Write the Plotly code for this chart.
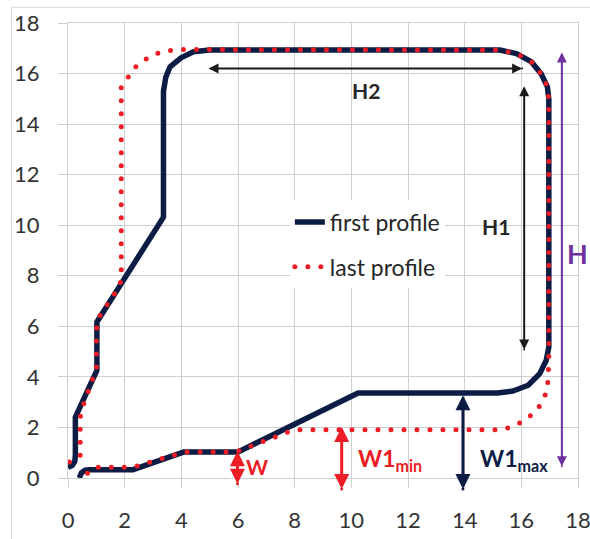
import plotly.graph_objects as go

# ---- data ----
first_x = [0.0, 0.15, 0.24, 0.26, 0.26, 1.02, 1.02, 3.37, 3.37, 3.45, 3.6, 4.0, 4.43, 5.0,
           15.24, 15.83, 16.36, 16.71, 16.92, 16.97, 16.97, 16.88, 16.65, 16.24, 15.71, 15.15,
           10.24, 6.0, 4.1, 2.3, 0.75, 0.6, 0.47, 0.40]
first_y = [0.43, 0.5, 0.65, 0.9, 2.41, 4.26, 6.17, 10.32, 15.3, 15.85, 16.26, 16.63, 16.86, 16.93,
           16.93, 16.79, 16.46, 15.97, 15.47, 15.0, 5.18, 4.66, 4.13, 3.67, 3.44, 3.36,
           3.36, 1.03, 1.03, 0.33, 0.33, 0.31, 0.2, 0.0]

last_x = [0.05, 0.3, 0.43, 0.43, 0.55, 0.88, 1.0, 1.0, 1.08, 1.84, 1.88, 1.88, 2.06, 2.29, 2.64,
          3.04, 3.46, 3.92, 4.39, 15.24, 15.83, 16.36, 16.71, 16.92, 16.97, 16.97, 16.92, 16.77,
          16.51, 16.15, 15.77, 15.32, 7.98, 5.93, 4.11, 2.31, 0.94, 0.61]
last_y = [0.63, 0.75, 0.9, 2.41, 2.92, 3.87, 4.33, 5.84, 6.34, 7.62, 8.12, 15.5, 15.73, 16.17, 16.5,
          16.76, 16.89, 16.95, 16.95, 16.93, 16.79, 16.46, 15.97, 15.47, 15.0, 4.52, 3.54, 3.05,
          2.64, 2.31, 2.06, 1.91, 1.91, 1.03, 1.03, 0.43, 0.43, 0.12]

series_names = ["first profile", "last profile"]
tick_vals = [0, 2, 4, 6, 8, 10, 12, 14, 16, 18]

# dimension arrows: head/tail positions, colour, width
arrow_x0 = [4.96, 16.1, 17.43, 5.98, 9.66, 13.94]
arrow_y0 = [16.2, 15.5, 16.83, 1.06, 2.02, 3.27]
arrow_x1 = [16.08, 16.1, 17.43, 5.98, 9.66, 13.94]
arrow_y1 = [16.2, 5.02, 0.41, -0.29, -0.49, -0.49]
arrow_colors = ["#1a1a1a", "#1a1a1a", "#7030a0", "#ee1c25", "#ee1c25", "#0c1c45"]
arrow_widths = [2, 2, 2, 3, 3, 3]

# labels
label_text = ["<b>H2</b>", "<b>H1</b>", "<b>H</b>", "<b>W</b>",
              "<b>W1<sub>min</sub></b>", "<b>W1<sub>max</sub></b>"]
label_x = [10.53, 15.12, 17.97, 6.66, 11.36, 15.75]
label_y = [15.34, 9.93, 8.89, 0.45, 0.72, 0.72]
label_colors = ["#262626", "#262626", "#7030a0", "#ee1c25", "#ee1c25", "#0c1c45"]
label_sizes = [21, 21, 27, 21, 23, 23]

NAVY = "#0c1c45"
RED = "#ee1c25"
GRID = "#cfcfcf"
FONT = "Lato"

fig = go.Figure()
fig.add_trace(go.Scatter(x=first_x, y=first_y, mode="lines", name=series_names[0],
                         legendgroup="a",
                         line=dict(color=NAVY, width=5.5)))
fig.add_trace(go.Scatter(x=last_x, y=last_y, mode="lines", name=series_names[1],
                         legendgroup="b",
                         line=dict(color=RED, width=5, dash="0px,13px")))

for i in range(len(arrow_x0)):
    fig.add_annotation(x=arrow_x0[i], y=arrow_y0[i], ax=arrow_x1[i], ay=arrow_y1[i],
                       xref="x", yref="y", axref="x", ayref="y", text="",
                       showarrow=True, arrowside="end+start",
                       arrowhead=2, startarrowhead=2, arrowsize=1, startarrowsize=1,
                       arrowwidth=arrow_widths[i], arrowcolor=arrow_colors[i],
                       standoff=0, startstandoff=0)

for i in range(len(label_text)):
    fig.add_annotation(x=label_x[i], y=label_y[i], xref="x", yref="y", text=label_text[i],
                       showarrow=False,
                       font=dict(family=FONT, size=label_sizes[i], color=label_colors[i]))

# outer chart border
fig.add_shape(type="rect", xref="paper", yref="paper", x0=-0.111, x1=1.05, y0=-0.16, y1=1.0345,
              line=dict(color="#d9d9d9", width=1), fillcolor="rgba(0,0,0,0)", layer="below")

axis_common = dict(range=[0, 18], tickvals=tick_vals, showgrid=True, gridcolor=GRID, gridwidth=1,
                   ticks="outside", ticklen=9, tickcolor=GRID, showline=True, mirror=True,
                   linecolor=GRID, linewidth=1, zeroline=False, automargin=False,
                   ticklabeloverflow="allow",
                   tickfont=dict(family=FONT, size=22, color="#333333"))

fig.update_layout(
    width=590, height=539,
    margin=dict(l=68, r=12, t=23, b=61),
    paper_bgcolor="white", plot_bgcolor="white",
    xaxis=dict(**axis_common, ticklabelstandoff=14),
    yaxis=dict(**axis_common, ticklabelstandoff=14),
    showlegend=True,
    legend=dict(x=0.435, y=0.61, xanchor="left", yanchor="top", bgcolor="white",
                font=dict(family=FONT, size=23, color="#262626"),
                tracegroupgap=12, traceorder="grouped"),
)

post = """
document.body.style.margin = '0';
document.body.style.padding = '0';
document.body.style.overflow = 'hidden';
var gd = document.getElementById('{plot_id}');
function fixCaps(){
  gd.querySelectorAll('path').forEach(function(p){
    var s = p.getAttribute('style') || '';
    if (s.indexOf('stroke-dasharray: 0px') >= 0) {
      p.style.strokeLinecap = 'round';
    }
    if (p.classList.contains('js-line')) { p.style.strokeLinejoin = 'round'; }
  });
}
fixCaps();
gd.on('plotly_afterplot', fixCaps);
"""
fig.write_html("out.html", post_script=post, config={"displayModeBar": False})
